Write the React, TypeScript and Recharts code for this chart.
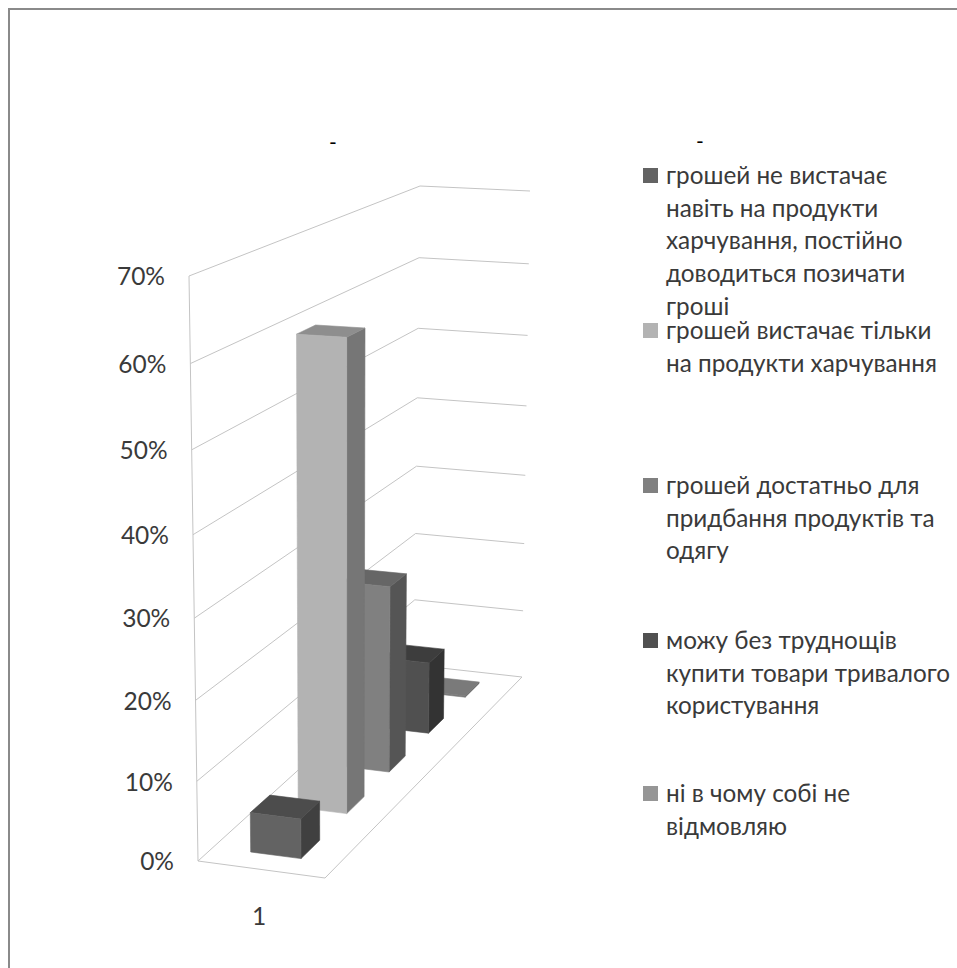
import { BarChart, Bar, XAxis, YAxis, CartesianGrid, Legend } from 'recharts';

type Pt = [number, number];

const categories = ['1'];
const seriesNames = [
  'грошей не вистачає навіть на продукти харчування, постійно доводиться позичати гроші',
  'грошей вистачає тільки на продукти харчування',
  'грошей достатньо для придбання продуктів та одягу',
  'можу без труднощів купити товари тривалого користування',
  'ні в чому собі не відмовляю',
];
const seriesValues = [5, 60, 25, 10, 0.2];
const yTicks = [0, 10, 20, 30, 40, 50, 60, 70];

// wrapped legend text, one entry per series
const legendLines = [
  ['грошей не вистачає', 'навіть на продукти', 'харчування, постійно', 'доводиться позичати', 'гроші'],
  ['грошей вистачає тільки', 'на продукти харчування'],
  ['грошей достатньо для', 'придбання продуктів та', 'одягу'],
  ['можу без труднощів', 'купити товари тривалого', 'користування'],
  ['ні в чому собі не', 'відмовляю'],
];
const legendTops = [159, 314, 469, 624, 777];

const faceColors = ['#636363', '#b3b3b3', '#808080', '#505050', '#7a7a7a'];
const topColors = ['#4c4c4c', '#8e8e8e', '#666666', '#3d3d3d', '#7a7a7a'];
const sideColors = ['#404040', '#767676', '#555555', '#333333', '#666666'];
const swatchColors = ['#636363', '#b3b3b3', '#808080', '#505050', '#969696'];

const WIDTH = 957;
const HEIGHT = 968;
const PLOT = { left: 198, top: 276, width: 400, height: 585 };
const FONT = 'Lato, sans-serif';
const TEXT = '#3a3a3a';
const GRID = '#c4c4c4';

// corners of the chart box as seen on screen: front-left, front-right, back-right, back-left
const FLOOR: Pt[] = [[198, 861], [325, 878], [522, 677], [414, 665]];
const ROOF: Pt[] = [[189, 276], [322, 283], [530, 191], [420, 186]];

// x span of a column across the box width
const COL_X0 = 0.3;
const COL_X1 = 0.7;

// unit square -> quad (Heckbert)
const quadMap = (q: Pt[]) => {
  const [[x0, y0], [x1, y1], [x2, y2], [x3, y3]] = q;
  const dx1 = x1 - x2;
  const dx2 = x3 - x2;
  const dy1 = y1 - y2;
  const dy2 = y3 - y2;
  const sx = x0 - x1 + x2 - x3;
  const sy = y0 - y1 + y2 - y3;
  const den = dx1 * dy2 - dx2 * dy1;
  const g = (sx * dy2 - dx2 * sy) / den;
  const h = (dx1 * sy - sx * dy1) / den;
  const a = x1 - x0 + g * x1;
  const b = x3 - x0 + h * x3;
  const d = y1 - y0 + g * y1;
  const e = y3 - y0 + h * y3;
  return (u: number, v: number): Pt => {
    const w = g * u + h * v + 1;
    return [(a * u + b * v + x0) / w, (d * u + e * v + y0) / w];
  };
};

const floorAt = quadMap(FLOOR);
const roofAt = quadMap(ROOF);

// t is the 0..1 height from the flat value axis, slightly compressed near the bottom
const project = (x: number, z: number, t: number): Pt => {
  const k = 0.057;
  const h = t / (1 + k * (1 - t));
  const f = floorAt(x, z);
  const r = roofAt(x, z);
  return [f[0] + (r[0] - f[0]) * h, f[1] + (r[1] - f[1]) * h];
};

const pts = (list: Pt[]) => list.map((p) => `${p[0].toFixed(1)},${p[1].toFixed(1)}`).join(' ');
const heightOf = (flatY: number) => (PLOT.top + PLOT.height - flatY) / PLOT.height;

const Face = ({ corners, color }: { corners: Pt[]; color: string }) => (
  <polygon points={pts(corners)} fill={color} stroke={color} strokeWidth={0.6} />
);

// Column box: the bar's flat x span becomes its depth, its flat height the column height.
// Series sit reversed on the flat axis so the deepest one paints first.
const Column3D = ({ x, width, height, seriesIndex }: any) => {
  const z0 = 1 - (x + width - PLOT.left) / PLOT.width;
  const z1 = 1 - (x - PLOT.left) / PLOT.width;
  const t = height / PLOT.height;
  const front = [project(COL_X0, z0, 0), project(COL_X1, z0, 0), project(COL_X1, z0, t), project(COL_X0, z0, t)];
  const side = [project(COL_X1, z0, 0), project(COL_X1, z1, 0), project(COL_X1, z1, t), project(COL_X1, z0, t)];
  const top = [project(COL_X0, z0, t), project(COL_X1, z0, t), project(COL_X1, z1, t), project(COL_X0, z1, t)];
  return (
    <g>
      <Face corners={side} color={sideColors[seriesIndex]} />
      <Face corners={top} color={topColors[seriesIndex]} />
      <Face corners={front} color={faceColors[seriesIndex]} />
    </g>
  );
};

// walls: each gridline bends at the back corner, the zero line closes the floor
const WallLine = ({ y1 }: any) => {
  const t = heightOf(y1);
  const line = [project(0, 0, t), project(0, 1, t), project(1, 1, t)];
  return (
    <g fill="none" stroke={GRID} strokeWidth={1}>
      <polyline points={pts(line)} />
      {t === 0 && <polyline points={pts([project(0, 0, 0), project(1, 0, 0), project(1, 1, 0)])} />}
      {t === 1 && <polyline points={pts([project(0, 0, 0), project(0, 0, 1)])} />}
    </g>
  );
};

const ValueTick = ({ y, payload }: any) => {
  const [px, py] = project(0, 0, heightOf(y));
  return (
    <text x={px - 24} y={py + 3} textAnchor="end" dominantBaseline="middle" fontFamily={FONT} fontSize={24.5} fill={TEXT}>
      {payload.value}%
    </text>
  );
};

const CategoryTick = ({ payload }: any) => {
  const [px, py] = project(0.5, 0, 0);
  return (
    <text x={px - 2} y={py + 49} textAnchor="middle" dominantBaseline="middle" fontFamily={FONT} fontSize={24.5} fill={TEXT}>
      {payload.value}
    </text>
  );
};

const SeriesLegend = () => (
  <div style={{ position: 'relative', height: 0, fontFamily: FONT, fontSize: 24.3, lineHeight: '32.7px', color: TEXT }}>
    {seriesNames.map((name, i) => (
      <div key={name} style={{ position: 'absolute', left: 643, top: legendTops[i] }}>
        <span
          style={{
            position: 'absolute',
            left: 0,
            top: 9,
            width: 15,
            height: 15,
            background: swatchColors[i],
          }}
        />
        <div style={{ marginLeft: 23, whiteSpace: 'nowrap' }}>
          {legendLines[i].map((line) => (
            <div key={line}>{line}</div>
          ))}
        </div>
      </div>
    ))}
  </div>
);

const row: Record<string, string | number> = { category: categories[0] };
seriesNames.forEach((name, i) => {
  row[name] = seriesValues[i];
});

const order = seriesNames.map((_, i) => seriesNames.length - 1 - i);

export default function App() {
  return (
    <div style={{ position: 'absolute', left: 0, top: 0, width: WIDTH, height: HEIGHT, background: '#fff', overflow: 'hidden' }}>
      <div style={{ position: 'absolute', left: 8, top: 8, width: WIDTH, height: HEIGHT, borderLeft: '2px solid #8a8a8a', borderTop: '2px solid #8a8a8a' }} />
      <div style={{ position: 'absolute', left: 329, top: 129, fontFamily: FONT, fontSize: 21, color: '#000' }}>-</div>
      <div style={{ position: 'absolute', left: 696, top: 128, fontFamily: FONT, fontSize: 21, color: '#000' }}>-</div>
      <BarChart
        width={WIDTH}
        height={HEIGHT}
        data={[row]}
        margin={{
          left: PLOT.left - 1,
          top: PLOT.top,
          right: WIDTH - PLOT.left - PLOT.width,
          bottom: HEIGHT - PLOT.top - PLOT.height - 1,
        }}
        barSize={32}
        barGap={48}
        style={{ position: 'absolute', left: 0, top: 0 }}
      >
        <CartesianGrid horizontal={(p: any) => <WallLine key={p.y1} {...p} />} vertical={false} />
        <XAxis dataKey="category" height={1} axisLine={false} tickLine={false} tick={<CategoryTick />} />
        <YAxis width={1} domain={[0, 70]} ticks={yTicks} axisLine={false} tickLine={false} tick={<ValueTick />} interval={0} />
        <Legend layout="vertical" align="center" verticalAlign="middle" content={<SeriesLegend />} wrapperStyle={{ left: 0, top: 0, width: WIDTH, height: 0 }} />
        {order.map((i) => (
          <Bar
            key={seriesNames[i]}
            dataKey={seriesNames[i]}
            isAnimationActive={false}
            fill={faceColors[i]}
            shape={(p: any) => <Column3D {...p} seriesIndex={i} />}
          />
        ))}
      </BarChart>
    </div>
  );
}
